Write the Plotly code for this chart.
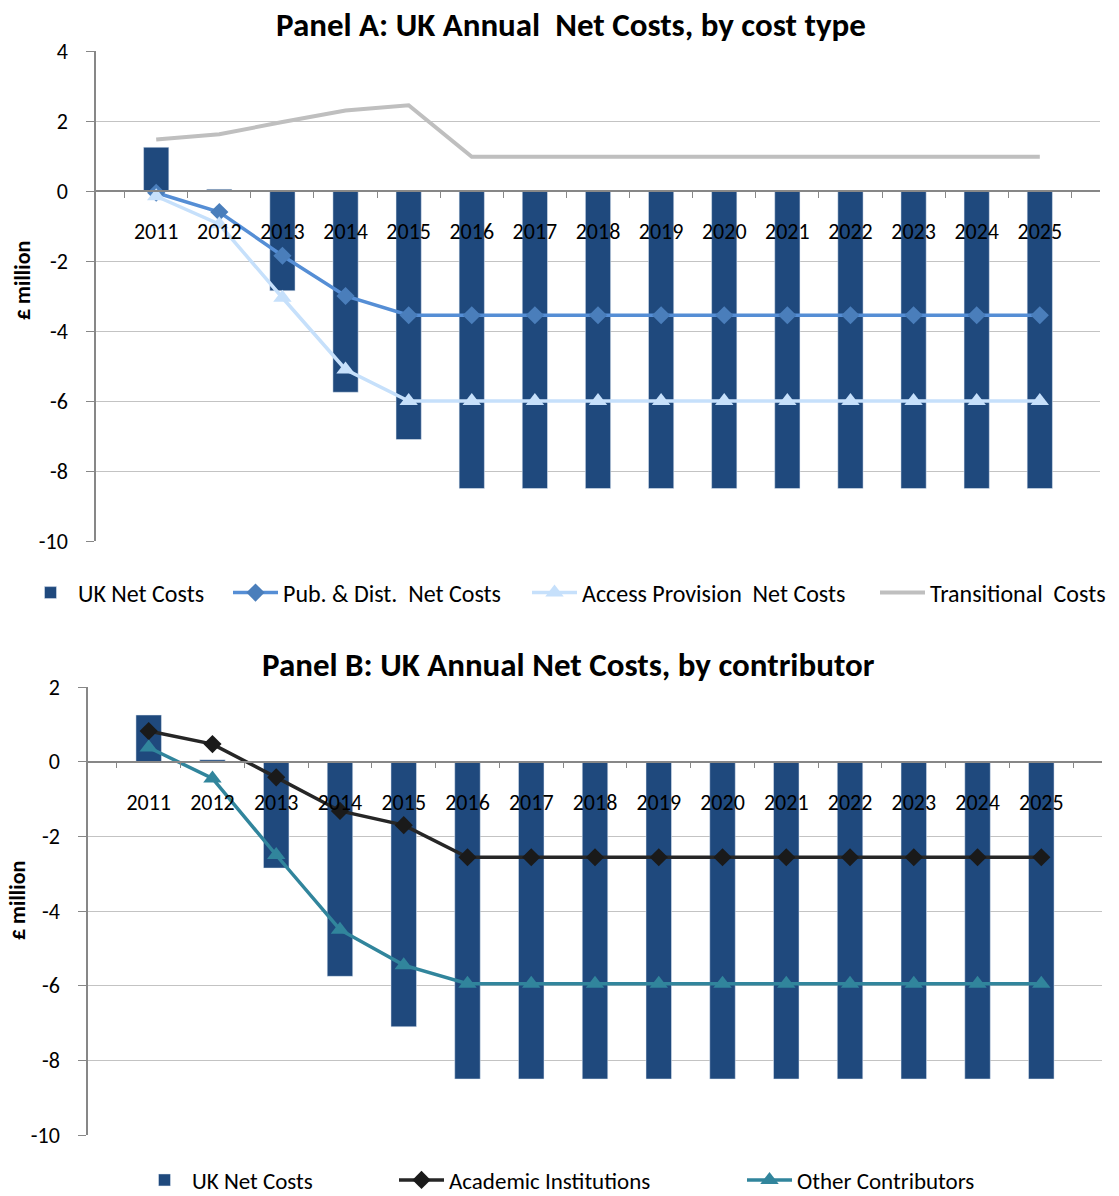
import plotly.graph_objects as go

# ---------------- data ----------------
years = [str(y) for y in range(2011, 2026)]

uk_net_costs = [1.25, 0.05, -2.85, -5.75, -7.1, -8.5, -8.5, -8.5, -8.5, -8.5, -8.5, -8.5, -8.5, -8.5, -8.5]
pub_dist_net = [-0.05, -0.6, -1.85, -3.0, -3.55, -3.55, -3.55, -3.55, -3.55, -3.55, -3.55, -3.55, -3.55, -3.55, -3.55]
access_prov_net = [-0.15, -0.95, -3.05, -5.1, -6.0, -6.0, -6.0, -6.0, -6.0, -6.0, -6.0, -6.0, -6.0, -6.0, -6.0]
transitional = [1.47, 1.62, 1.97, 2.3, 2.45, 0.98, 0.98, 0.98, 0.98, 0.98, 0.98, 0.98, 0.98, 0.98, 0.98]

academic = [0.82, 0.47, -0.42, -1.32, -1.7, -2.56, -2.56, -2.56, -2.56, -2.56, -2.56, -2.56, -2.56, -2.56, -2.56]
other_contrib = [0.38, -0.45, -2.5, -4.5, -5.45, -5.95, -5.95, -5.95, -5.95, -5.95, -5.95, -5.95, -5.95, -5.95, -5.95]

yticks_a = [4, 2, 0, -2, -4, -6, -8, -10]
yticklabels_a = ["4", "2", "0", "-2", "-4", "-6", "-8", "-10"]
yticks_b = [2, 0, -2, -4, -6, -8, -10]
yticklabels_b = ["2", "0", "-2", "-4", "-6", "-8", "-10"]

# ---------------- layout geometry ----------------
W, H = 1119, 1196
FONT = "Carlito, Lato, sans-serif"
BAR = "#1F497D"
GRID = "#C3C3C3"
AXIS = "#878787"

def px_x(p):
    return p / W

def px_y(p):
    return 1 - p / H

xa_dom = [px_x(96), px_x(1100)]
ya_dom = [px_y(541), px_y(51)]
xb_dom = [px_x(88), px_x(1102)]
yb_dom = [px_y(1135), px_y(687)]
ya_rng = [-10, 4]
yb_rng = [-10, 2]

def zero_pos(dom, rng):
    return dom[0] + (0 - rng[0]) / (rng[1] - rng[0]) * (dom[1] - dom[0])

fig = go.Figure()

# Panel A
fig.add_trace(go.Bar(x=years, y=uk_net_costs, name="UK Net Costs", marker_color=BAR,
                     width=0.4, xaxis="x", yaxis="y", legend="legend"))
fig.add_trace(go.Scatter(x=years, y=pub_dist_net, name="Pub. & Dist.  Net Costs", mode="lines+markers",
                         line=dict(color="#558ED5", width=3.5),
                         marker=dict(symbol="diamond", size=14, color="#4A7EBB"),
                         xaxis="x", yaxis="y", legend="legend2"))
fig.add_trace(go.Scatter(x=years, y=access_prov_net, name="Access Provision  Net Costs", mode="lines+markers",
                         line=dict(color="#C6E0FB", width=3.5),
                         marker=dict(symbol="triangle-up", size=16, color="#C6E0FB"),
                         xaxis="x", yaxis="y", legend="legend3"))
fig.add_trace(go.Scatter(x=years, y=transitional, name="Transitional  Costs", mode="lines",
                         line=dict(color="#BFBFBF", width=4),
                         xaxis="x", yaxis="y", legend="legend4"))

# Panel B
fig.add_trace(go.Bar(x=years, y=uk_net_costs, name="UK Net Costs", marker_color=BAR,
                     width=0.4, xaxis="x2", yaxis="y2", legend="legend5"))
fig.add_trace(go.Scatter(x=years, y=academic, name="Academic Institutions", mode="lines+markers",
                         line=dict(color="#262626", width=3.5),
                         marker=dict(symbol="diamond", size=14, color="#1A1A1A"),
                         xaxis="x2", yaxis="y2", legend="legend6"))
fig.add_trace(go.Scatter(x=years, y=other_contrib, name="Other Contributors", mode="lines+markers",
                         line=dict(color="#31859C", width=3.5),
                         marker=dict(symbol="triangle-up", size=16, color="#31859C"),
                         xaxis="x2", yaxis="y2", legend="legend7"))

xcommon = dict(type="category", showline=True, linecolor=AXIS, linewidth=1.6,
               ticks="outside", tickson="boundaries", ticklen=6, tickcolor=AXIS, tickwidth=1.3,
               showgrid=False, automargin=False, ticklabelstandoff=21,
               tickfont=dict(family=FONT, size=22, color="#000000"), anchor="free")
ycommon = dict(showline=True, linecolor=AXIS, linewidth=1.6, ticks="outside", ticklen=8,
               tickcolor=AXIS, tickwidth=1.3, showgrid=True, gridcolor=GRID, gridwidth=1.3,
               zeroline=False, automargin=False, ticklabelstandoff=14,
               tickfont=dict(family=FONT, size=22, color="#000000"))

def leg(x_px, y_px, size=24):
    return dict(orientation="h", xref="container", yref="container",
                x=px_x(x_px), xanchor="left", y=px_y(y_px), yanchor="middle",
                font=dict(family=FONT, size=size, color="#000000"), itemwidth=45,
                bgcolor="rgba(0,0,0,0)")

fig.update_layout(
    width=W, height=H,
    margin=dict(l=0, r=0, t=0, b=0, autoexpand=False),
    paper_bgcolor="white", plot_bgcolor="white",
    showlegend=True,
    barmode="overlay",
    xaxis=dict(xcommon, domain=xa_dom, position=zero_pos(ya_dom, ya_rng)),
    yaxis=dict(ycommon, domain=ya_dom, range=ya_rng, tickvals=yticks_a, ticktext=yticklabels_a, anchor="x"),
    xaxis2=dict(xcommon, domain=xb_dom, position=zero_pos(yb_dom, yb_rng)),
    yaxis2=dict(ycommon, domain=yb_dom, range=yb_rng, tickvals=yticks_b, ticktext=yticklabels_b, anchor="x2"),
    legend=leg(23, 593),
    legend2=leg(228, 593),
    legend3=leg(527, 593),
    legend4=leg(875, 593),
    legend5=leg(137, 1180, 23),
    legend6=leg(394, 1180, 23),
    legend7=leg(742, 1180, 23),
    annotations=[
        dict(text="<b>Panel A: UK Annual  Net Costs, by cost type</b>", x=px_x(571), y=px_y(25),
             xref="paper", yref="paper", showarrow=False, xanchor="center", yanchor="middle",
             font=dict(family=FONT, size=33, color="#000000")),
        dict(text="<b>Panel B: UK Annual Net Costs, by contributor</b>", x=px_x(568), y=px_y(665),
             xref="paper", yref="paper", showarrow=False, xanchor="center", yanchor="middle",
             font=dict(family=FONT, size=33, color="#000000")),
        dict(text="<b>£ million</b>", x=px_x(22), y=px_y(281), textangle=-90,
             xref="paper", yref="paper", showarrow=False, xanchor="center", yanchor="middle",
             font=dict(family=FONT, size=22, color="#000000")),
        dict(text="<b>£ million</b>", x=px_x(17), y=px_y(901), textangle=-90,
             xref="paper", yref="paper", showarrow=False, xanchor="center", yanchor="middle",
             font=dict(family=FONT, size=22, color="#000000")),
    ],
)

fig.write_html("out.html", config={"displayModeBar": False},
               post_script="document.body.style.margin='0px';document.body.style.overflow='hidden';")
